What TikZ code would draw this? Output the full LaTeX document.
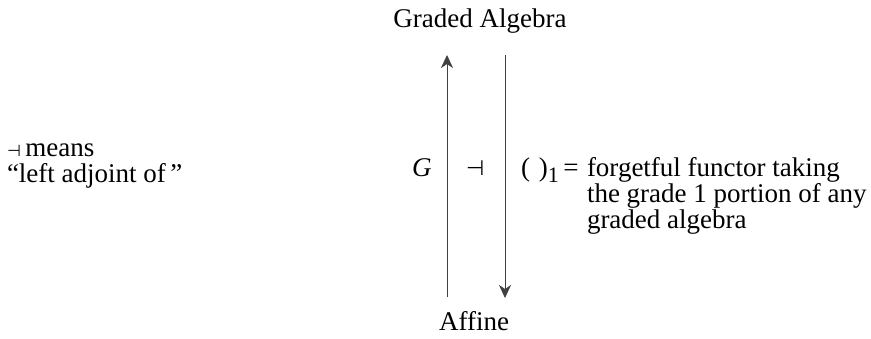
\documentclass[tikz,border=0pt]{standalone}
\usepackage{fontspec}
\setmainfont{Liberation Serif}
\newfontfamily\symfont{DejaVu Sans}
\usepackage{tikz}
\usetikzlibrary{arrows.meta}

\begin{document}
\begin{tikzpicture}[
  x=1pt, y=-1pt,
  every node/.style={inner sep=0pt, outer sep=0pt},
  lbl/.style={font=\fontsize{27}{26}\selectfont, anchor=base west},
  multi/.style={lbl, align=left},
  arrow/.style={draw=black!75, line width=0.7pt, -{Stealth[length=13pt, width=12pt, inset=4pt]}}
]
\useasboundingbox (0,0) rectangle (871,338);

% objects
\node[lbl, anchor=base] (graded) at (480,27) {Graded Algebra};
\node[lbl, anchor=base] (affine) at (474,330) {Affine};

% ends of the two functors
\coordinate (Gfrom) at (447,297);
\coordinate (Gto) at (447,55);
\coordinate (Ffrom) at (505,55);
\coordinate (Fto) at (505,298);

\draw[arrow] (Gfrom) -- (Gto);
\draw[arrow] (Ffrom) -- (Fto);

% labels between and beside the arrows
\node[lbl] (G) at (412,176) {\itshape G};
\node[lbl] (adj) at (466,175) {{\symfont\fontsize{21}{21}\selectfont ⊣}};
\node[lbl] (forget) at (521,176) {(\,\,)\raisebox{-6pt}{\fontsize{22}{22}\selectfont 1}\,=};
\node[multi] (forgetdesc) at (587,228) {forgetful functor taking\\the grade 1 portion of any\\graded algebra};

% legend
\node[multi] (legend) at (7,182) {{\symfont\fontsize{16}{16}\selectfont ⊣}\,means\\``left adjoint of\,''};
\end{tikzpicture}
\end{document}
